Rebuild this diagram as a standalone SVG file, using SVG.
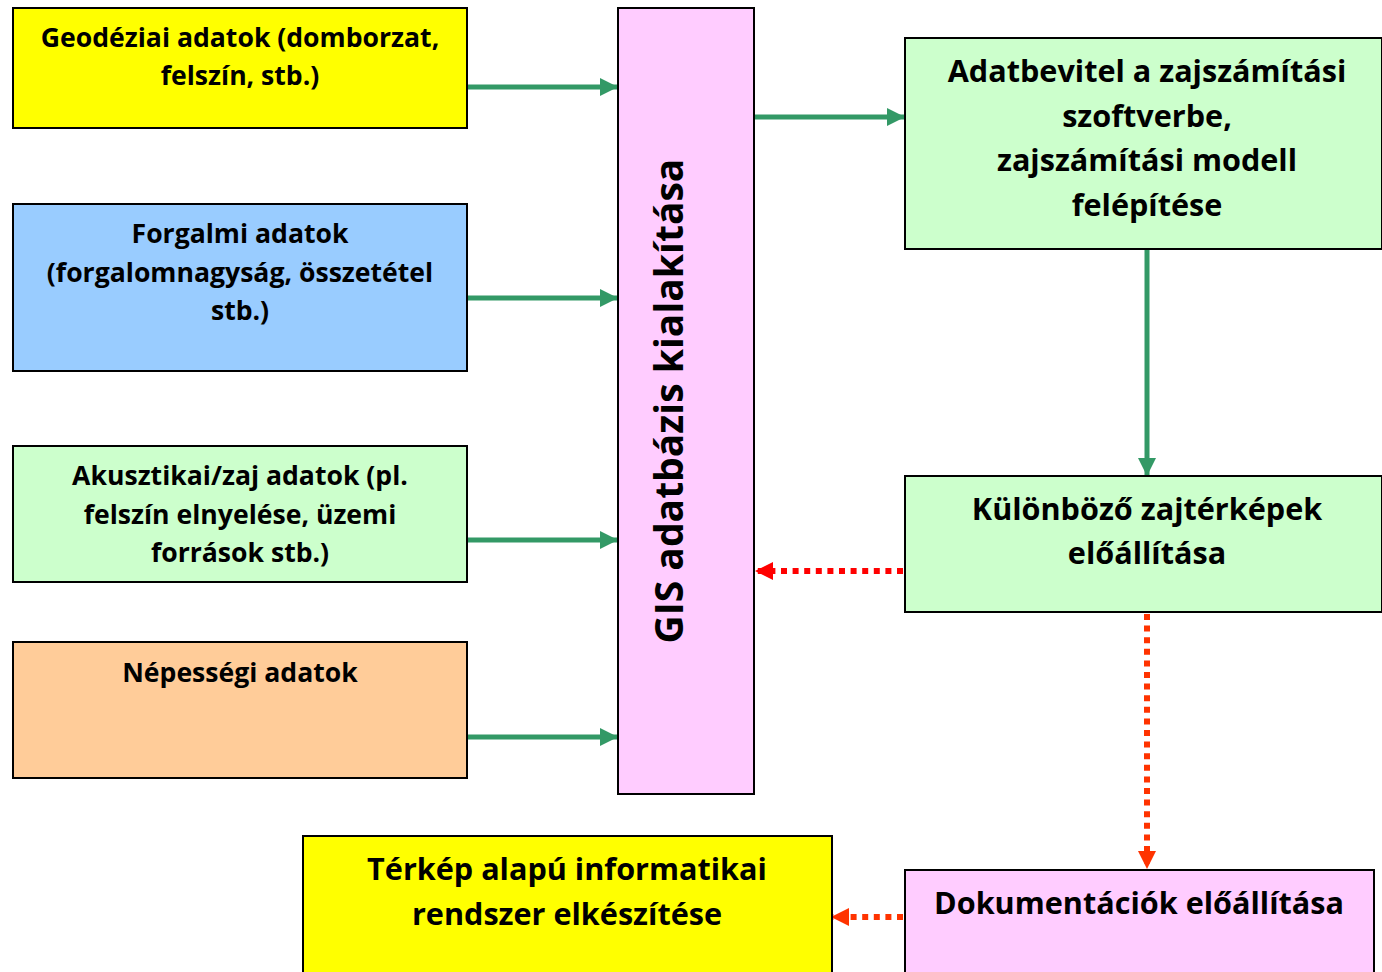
<svg xmlns="http://www.w3.org/2000/svg" width="1382" height="972" viewBox="0 0 1382 972">
<style>
.box{stroke:#000;stroke-width:2}
.t{font-family:"Open Sans","Liberation Sans",sans-serif;font-weight:bold;fill:#000;text-anchor:middle}
.s{font-size:26.6px}
.m{font-size:30.6px}
.g{stroke:#339966;stroke-width:5;fill:none}
.r{stroke:#FF0000;stroke-width:6;fill:none;stroke-dasharray:6 5.6}
.o{stroke:#FF3300;stroke-width:6;fill:none;stroke-dasharray:6 5.6}
</style>
<defs>
<marker id="ag" viewBox="0 0 10 10" refX="10" refY="5" markerWidth="3.6" markerHeight="3.6" markerUnits="strokeWidth" orient="auto"><path d="M0,0L10,5L0,10z" fill="#339966"/></marker>
<marker id="ar" viewBox="0 0 10 10" refX="10" refY="5" markerWidth="3" markerHeight="3" markerUnits="strokeWidth" orient="auto"><path d="M0,0L10,5L0,10z" fill="#FF0000"/></marker>
<marker id="ao" viewBox="0 0 10 10" refX="10" refY="5" markerWidth="3" markerHeight="3" markerUnits="strokeWidth" orient="auto"><path d="M0,0L10,5L0,10z" fill="#FF3300"/></marker>
</defs>
<rect width="1382" height="972" fill="#fff"/>
<g id="connectors">
<path class="g" d="M467,87H618" marker-end="url(#ag)"/>
<path class="g" d="M467,298H618" marker-end="url(#ag)"/>
<path class="g" d="M467,540H618" marker-end="url(#ag)"/>
<path class="g" d="M467,737H618" marker-end="url(#ag)"/>
<path class="g" d="M754,117H905" marker-end="url(#ag)"/>
<path class="g" d="M1147,249V476" marker-end="url(#ag)"/>
<path class="r" d="M903,571H755" marker-end="url(#ar)"/>
<path class="o" d="M1147,614V869" marker-end="url(#ao)"/>
<path class="o" d="M903,917H831" marker-end="url(#ao)"/>
</g>
<g id="geo">
<rect class="box" x="13" y="8" width="454" height="120" fill="#FFFF00"/>
<text class="t s" x="240" y="47">Geodéziai adatok (domborzat,</text>
<text class="t s" x="240" y="85">felszín, stb.)</text>
</g>
<g id="forgalmi">
<rect class="box" x="13" y="204" width="454" height="167" fill="#99CCFF"/>
<text class="t s" x="240" y="243">Forgalmi adatok</text>
<text class="t s" x="240" y="282">(forgalomnagyság, összetétel</text>
<text class="t s" x="240" y="320">stb.)</text>
</g>
<g id="akusztikai">
<rect class="box" x="13" y="446" width="454" height="136" fill="#CCFFCC"/>
<text class="t s" x="240" y="485">Akusztikai/zaj adatok (pl.</text>
<text class="t s" x="240" y="524">felszín elnyelése, üzemi</text>
<text class="t s" x="240" y="562">források stb.)</text>
</g>
<g id="nepessegi">
<rect class="box" x="13" y="642" width="454" height="136" fill="#FFCC99"/>
<text class="t s" x="240" y="682">Népességi adatok</text>
</g>
<g id="gis">
<rect class="box" x="618" y="8" width="136" height="786" fill="#FFCCFF"/>
<text class="t" font-size="39" transform="translate(683,401) rotate(-90)">GIS adatbázis kialakítása</text>
</g>
<g id="adatbevitel">
<rect class="box" x="905" y="38" width="477" height="211" fill="#CCFFCC"/>
<text class="t m" x="1147" y="82">Adatbevitel a zajszámítási</text>
<text class="t m" x="1147" y="127">szoftverbe,</text>
<text class="t m" x="1147" y="171">zajszámítási modell</text>
<text class="t m" x="1147" y="216">felépítése</text>
</g>
<g id="zajterkepek">
<rect class="box" x="905" y="476" width="477" height="136" fill="#CCFFCC"/>
<text class="t m" x="1147" y="520">Különböző zajtérképek</text>
<text class="t m" x="1147" y="564">előállítása</text>
</g>
<g id="dokumentaciok">
<rect class="box" x="905" y="870" width="469" height="110" fill="#FFCCFF"/>
<text class="t m" x="1139" y="914">Dokumentációk előállítása</text>
</g>
<g id="terkep">
<rect class="box" x="303" y="836" width="529" height="140" fill="#FFFF00"/>
<text class="t m" x="567" y="880">Térkép alapú informatikai</text>
<text class="t m" x="567" y="925">rendszer elkészítése</text>
</g>
</svg>
